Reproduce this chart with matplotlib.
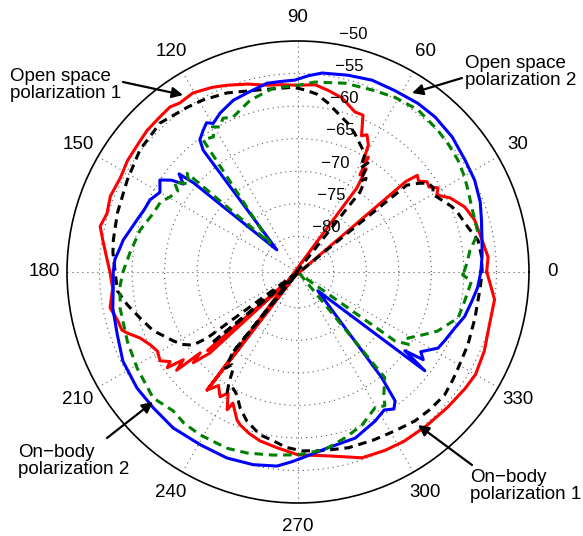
import numpy as np
import matplotlib.pyplot as plt

plt.rcParams['font.family'] = ['Liberation Sans', 'DejaVu Sans']

R_MIN = -85.5
R_MAX = -50.0

theta_ticks = list(range(0, 360, 30))
r_ticks = [-85, -80, -75, -70, -65, -60, -55]
r_labels = [-80, -75, -70, -65, -60, -55, -50]

# open space, polarization 1 (red)
red_ang = [0, 4.5, 9.9, 16.4, 21.3, 26, 29, 31, 33, 35, 37, 39, 40, 41, 47, 52.4,
           55, 56.5, 57.5, 58.5, 59.5, 61, 63.3, 65, 67.5, 70.4, 75.8, 80.6, 84.8, 90,
           95, 99.4, 105, 110.8, 115, 120.4, 125, 127.8, 132, 136.8, 141, 146.8, 152,
           158, 163, 167, 170.7, 175, 180, 185, 190.8, 195, 198.2, 199.6, 202.7, 206.3,
           209.3, 212.8, 215, 216.2, 217.4, 219, 219.6, 220.9, 222.6, 227, 232.4, 235,
           238, 240, 242.8, 243.6, 247.6, 249.2, 253, 257.3, 263.2, 270, 279, 289, 296,
           302, 310, 318, 325, 330, 337, 345, 352, 357, 360]
red_db = [-56.5, -56.2, -56.8, -57.2, -58.0, -59.5, -61.1, -60.4, -61.5, -61.3, -62.3,
          -61.9, -63.8, -103.9, -85.5, -108.4,
          -69.7, -66.5, -67.8, -64.8, -65.8, -63.2, -61.9, -62.4, -59.4, -59.4, -57.9,
          -57.2, -56.6, -56.8,
          -56.6, -56.4, -55.6, -54.8, -54.2, -53.6, -53.8, -53.4, -53.6, -53.7, -54.0,
          -54.2, -54.6, -54.4, -54.8, -54.3, -55.1, -55.9, -56.6, -56.9, -56.1, -56.8,
          -57.0, -57.6, -59.2, -60.2, -60.7, -60.3, -61.5, -60.6, -63.3, -61.5, -66.0,
          -64.2, -67.1, -85.5, -62.6, -64.2, -62.9, -64.0, -61.7, -63.0, -60.9, -60.4,
          -59.6, -58.9, -58.3, -57.4, -56.9, -55.3, -55.0, -54.8, -54.7, -54.5, -54.2,
          -54.0, -54.4, -55.0, -55.0, -56.0, -56.5]

# on-body, polarization 1 (black dashed)
black_ang = [0, 5, 10, 14.8, 20.2, 23, 26.6, 30, 32, 34.4, 36.5, 38.6, 39.5, 46, 51,
             52.2, 54, 55.5, 57.3, 59, 60.5, 62.9, 65, 67.7, 71, 74.2, 80, 84, 87.8,
             91.5, 101.8, 111.6, 118.9, 123.9, 132.8, 142.3, 151.7, 161.9, 170.2, 174,
             180, 186, 190.9, 196.2, 202.1, 205, 208.9, 212, 214.8, 216, 224, 231, 233,
             234.5, 236.4, 238, 239.6, 241, 243.6, 246.9, 251, 256.9, 261.6, 266, 271.3,
             277.6, 286, 294, 301.4, 308.1, 314, 320.1, 325, 329, 336.8, 345.4, 355, 360]
black_db = [-57.2, -57.2, -57.4, -58.5, -59.3, -59.8, -60.8, -61.6, -61.0, -61.3, -62.6,
            -64.1, -102.8, -85.5, -101.5,
            -70.0, -67.7, -68.6, -65.6, -66.8, -64.6, -64.0, -63.4, -62.5, -61.5, -60.8,
            -59.1, -58.0, -57.5, -57.1, -56.9, -55.9, -55.3, -55.0, -54.3, -54.8, -55.7,
            -56.3, -56.7, -56.9, -57.4, -57.6, -58.8, -60.2, -61.5, -62.5, -63.6, -64.5,
            -65.8, -68.2, -85.5, -69.5, -67.0, -68.0, -67.4, -65.5, -64.0, -65.0, -64.4,
            -62.8, -61.3, -59.8, -59.3, -58.5, -58.0, -57.8, -57.4, -57.2, -56.9, -56.4,
            -56.2, -56.1, -56.5, -56.8, -57.1, -57.4, -57.4, -57.2]

# open space, polarization 2 (blue)
blue_ang = [0, 5, 9.9, 15.8, 21, 27.5, 33.8, 41.2, 48.5, 54.6, 61.9, 68.9, 75.8, 83.1,
            87, 90.9, 95, 99.3, 105.9, 110.7, 116.1, 119.7, 121.5, 123.8, 126.6, 127.9,
            133.7, 139.5, 140.5, 142.5, 144, 146.3, 150, 154, 158, 162, 166, 169.6, 173,
            176, 180, 185, 191, 199.2, 207, 215.8, 223.2, 231.3, 240.5, 249.1, 256.9,
            263.8, 268, 271.2, 279.7, 289, 297.3, 302, 305, 307, 308.4, 316.5, 322.1,
            323.6, 325, 327, 331.5, 335, 340.4, 345, 350.5, 355, 360]
blue_db = [-57.4, -57.1, -56.8, -56.2, -55.5, -54.9, -54.6, -54.0, -53.7, -53.7, -53.9,
           -53.9, -54.3, -54.7, -55.3, -56.0, -56.1, -56.1, -56.9, -57.3, -58.3, -59.2,
           -58.6, -59.3, -60.2, -61.8, -80.8, -64.4, -61.8, -63.3, -61.5, -60.0, -61.0,
           -60.2, -60.0, -59.5, -58.9, -58.2, -57.8, -57.3, -57.1, -57.0, -56.5, -56.1,
           -55.3, -55.0, -55.0, -54.8, -55.0, -54.9, -55.1, -55.5, -56.3, -56.9, -58.1,
           -58.5, -59.7, -60.5, -59.8, -60.7, -64.8, -81.3, -60.8, -65.1, -62.0, -63.0,
           -61.0, -60.6, -59.9, -59.0, -58.4, -57.8, -57.4]

# on-body, polarization 2 (green dashed)
green_ang = [0, 3, 7, 12.2, 20.5, 25.7, 30, 35, 40, 45.4, 53.5, 61, 67.9, 76, 85, 90,
             97.7, 105.6, 112.8, 116, 118.3, 120.5, 122, 125.7, 134, 138.3, 141, 144,
             146, 149.6, 153, 157.9, 165.1, 173.5, 180, 184.2, 191.4, 202, 210.8, 221,
             228, 233, 238.9, 248, 254.3, 262.2, 270, 278.6, 285.8, 292.7, 299.5, 303,
             305, 309.4, 313.4, 324.6, 327, 329, 333.1, 337.1, 344, 350.1, 357, 359, 360]
green_db = [-60.0, -59.5, -58.9, -57.2, -57.0, -56.5, -56.0, -55.5, -55.2, -54.9, -54.5,
            -54.8, -55.3, -55.6, -56.2, -56.8, -57.0, -58.1, -59.7, -59.2, -60.2, -59.6,
            -61.0, -60.5, -79.3, -62.7, -64.0, -62.0, -63.2, -62.7, -61.8, -61.5, -60.4,
            -59.5, -58.6, -58.1, -57.6, -57.2, -56.7, -56.0, -56.8, -56.4, -56.3, -56.3,
            -56.6, -57.1, -57.4, -57.9, -59.0, -60.0, -61.5, -61.0, -62.5, -64.5, -85.0,
            -67.2, -65.0, -65.8, -64.1, -62.2, -59.9, -59.5, -58.8, -60.2, -60.0]


def to_polar(ang_deg, db):
    # like MATLAB polar(): samples below the inner limit land on the opposite side
    th = np.deg2rad(np.asarray(ang_deg, float))
    r = np.asarray(db, float)
    low = r < R_MIN
    th = np.where(low, th + np.pi, th)
    r = np.where(low, 2 * R_MIN - r, r)
    return th, r


W, H = 583, 536
fig = plt.figure(figsize=(W / 100, H / 100), dpi=100)
ax = fig.add_axes([67 / W, 33 / H, 462 / W, 462 / H], projection='polar')
ax.set_ylim(R_MIN, R_MAX)
ax.set_xticks(np.deg2rad(theta_ticks))
ax.set_yticks(r_ticks)
ax.set_xticklabels([])
ax.set_yticklabels([])
ax.tick_params(length=0)
ax.grid(True, color='0.35', linestyle=(0, (1, 3.5)), linewidth=0.8)
ax.spines['polar'].set_linewidth(1.2)
ax.spines['polar'].set_color('black')

curves = [
    (red_ang, red_db, 'red', '-'),
    (black_ang, black_db, 'black', (0, (2.8, 1.9))),
    (blue_ang, blue_db, 'blue', '-'),
    (green_ang, green_db, '#008000', (0, (2.8, 1.9))),
]
for ang, db, col, ls in curves:
    th, r = to_polar(ang, db)
    ax.plot(th, r, color=col, linestyle=ls, linewidth=2.2)

# angle labels outside the rim
r_lab = R_MIN + 1.1 * (R_MAX - R_MIN)
for t in theta_ticks:
    ax.text(np.deg2rad(t), r_lab, str(t), ha='center', va='center', fontsize=13.5)

# ring labels along the 82 degree spoke
for v in r_labels:
    ax.text(np.deg2rad(82), v + 0.25, '  \u2212%d' % abs(v), ha='left', va='bottom',
            fontsize=12)


def fpos(x, y):
    return x / W, 1 - y / H


notes = [
    ('Open space\npolarization 1', (10, 85), (123, 82), (183, 95)),
    ('Open space\npolarization 2', (465, 72), (462, 78), (412, 93)),
    ('On\u2212body\npolarization 2', (18, 461), (107, 438), (153, 402)),
    ('On\u2212body\npolarization 1', (470, 486), (472, 465), (418, 425)),
]
for txt, tpos, tail, head in notes:
    fig.text(*fpos(*tpos), txt, ha='left', va='center', fontsize=13.5, linespacing=1.05)
    ax.annotate('', xy=fpos(*head), xycoords='figure fraction',
                xytext=fpos(*tail), textcoords='figure fraction',
                arrowprops=dict(arrowstyle='-|>', color='black', lw=1.6,
                                mutation_scale=16, shrinkA=0, shrinkB=0))

fig.savefig('out.png', dpi=100)
